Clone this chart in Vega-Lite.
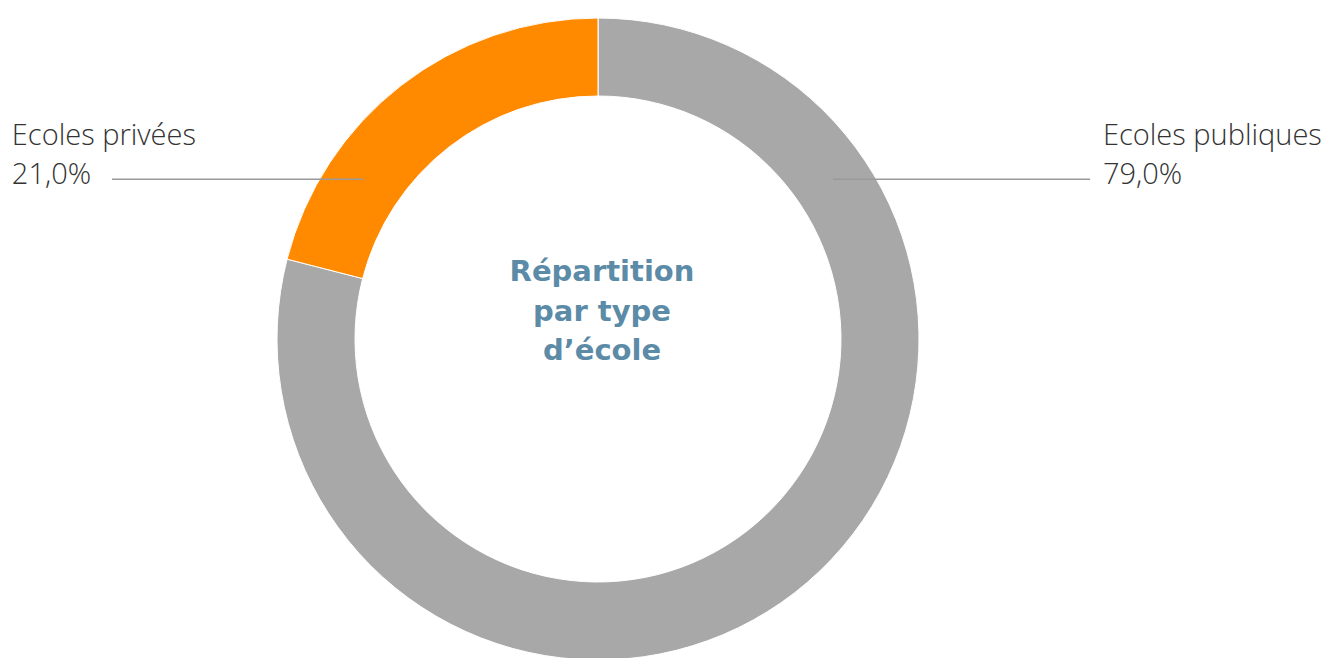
{
  "$schema": "https://vega.github.io/schema/vega-lite/v6.json",
  "width": 1196,
  "height": 678,
  "padding": {"left": 0, "top": 0, "right": 139, "bottom": 0},
  "autosize": {"type": "none"},
  "background": "white",
  "config": {"view": {"stroke": null}},
  "datasets": {
    "slices": [
      {"type": "Ecoles publiques", "value": 79.0, "order": 1},
      {"type": "Ecoles privées", "value": 21.0, "order": 2}
    ],
    "leaders": [
      {"type": "Ecoles privées", "x1": -1.514, "x2": -0.732, "y": 0.498},
      {"type": "Ecoles publiques", "x1": 0.732, "x2": 1.533, "y": 0.498}
    ],
    "labels": [
      {"type": "Ecoles privées", "text": "Ecoles privées\n21,0%", "x": -1.826, "y": 0.604},
      {"type": "Ecoles publiques", "text": "Ecoles publiques\n79,0%", "x": 1.573, "y": 0.604}
    ],
    "title": [
      {"text": "Répartition\npar type\nd’école", "x": 0.0125, "y": 0.18}
    ]
  },
  "layer": [
    {
      "data": {"name": "slices"},
      "mark": {"type": "arc", "outerRadius": 321, "innerRadius": 243, "stroke": "white", "strokeWidth": 1},
      "encoding": {
        "theta": {"field": "value", "type": "quantitative", "stack": true},
        "order": {"field": "order", "type": "quantitative"},
        "color": {
          "field": "type",
          "type": "nominal",
          "scale": {"domain": ["Ecoles publiques", "Ecoles privées"], "range": ["#a8a8a8", "#ff8a00"]},
          "legend": null
        }
      }
    },
    {
      "data": {"name": "leaders"},
      "mark": {"type": "rule", "color": "#9a9a9a", "strokeWidth": 1.5},
      "encoding": {
        "x": {"field": "x1", "type": "quantitative", "scale": {"domain": [-1.8629, 1.8629], "nice": false, "zero": false}, "axis": null},
        "x2": {"field": "x2"},
        "y": {"field": "y", "type": "quantitative", "scale": {"domain": [-1.0561, 1.0561], "nice": false, "zero": false}, "axis": null}
      }
    },
    {
      "data": {"name": "labels"},
      "mark": {"type": "text", "align": "left", "baseline": "alphabetic", "font": "Open Sans", "fontWeight": 300, "fontSize": 29, "color": "#333333", "lineBreak": "\n", "lineHeight": 39},
      "encoding": {
        "x": {"field": "x", "type": "quantitative", "scale": {"domain": [-1.8629, 1.8629], "nice": false, "zero": false}, "axis": null},
        "y": {"field": "y", "type": "quantitative", "scale": {"domain": [-1.0561, 1.0561], "nice": false, "zero": false}, "axis": null},
        "text": {"field": "text"}
      }
    },
    {
      "data": {"name": "title"},
      "mark": {"type": "text", "align": "center", "baseline": "alphabetic", "font": "DejaVu Sans", "fontWeight": "bold", "fontSize": 29, "color": "#5b8ba6", "lineBreak": "\n", "lineHeight": 39.5},
      "encoding": {
        "x": {"field": "x", "type": "quantitative", "scale": {"domain": [-1.8629, 1.8629], "nice": false, "zero": false}, "axis": null},
        "y": {"field": "y", "type": "quantitative", "scale": {"domain": [-1.0561, 1.0561], "nice": false, "zero": false}, "axis": null},
        "text": {"field": "text"}
      }
    }
  ]
}
